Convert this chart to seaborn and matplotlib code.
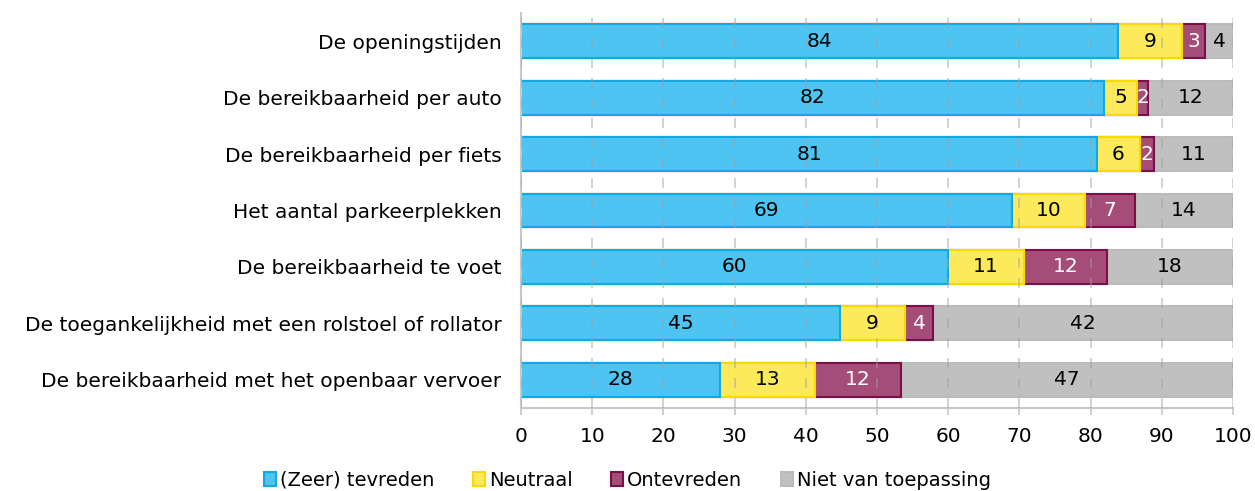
import matplotlib
matplotlib.use("Agg")
import matplotlib.pyplot as plt
from matplotlib.patches import Patch
import seaborn as sns
import pandas as pd
import numpy as np

categories = [
    "De openingstijden",
    "De bereikbaarheid per auto",
    "De bereikbaarheid per fiets",
    "Het aantal parkeerplekken",
    "De bereikbaarheid te voet",
    "De toegankelijkheid met een rolstoel of rollator",
    "De bereikbaarheid met het openbaar vervoer",
]
tevreden = [83.9, 81.9, 80.9, 69.0, 60.0, 44.8, 27.9]
neutraal = [8.9, 4.6, 6.0, 10.2, 10.6, 9.1, 13.4]
ontevreden = [3.3, 1.6, 2.0, 7.0, 11.7, 4.0, 12.1]
niet_van_toepassing = [3.9, 11.9, 11.1, 13.8, 17.7, 42.1, 46.6]
labels_tevreden = [84, 82, 81, 69, 60, 45, 28]
labels_neutraal = [9, 5, 6, 10, 11, 9, 13]
labels_ontevreden = [3, 2, 2, 7, 12, 4, 12]
labels_niet = [4, 12, 11, 14, 18, 42, 47]

series_names = ["(Zeer) tevreden", "Neutraal", "Ontevreden", "Niet van toepassing"]
series_values = [tevreden, neutraal, ontevreden, niet_van_toepassing]
series_labels = [labels_tevreden, labels_neutraal, labels_ontevreden, labels_niet]
face_colors = ["#4DC4F1", "#FDEA5A", "#A44D78", "#C0C0C0"]
edge_colors = ["#14A8E2", "#F7DA00", "#7B0F47", "#BBBBBB"]
text_colors = ["#000000", "#000000", "#FFFFFF", "#000000"]

sns.set_theme(style="white")
plt.rcParams["font.family"] = ["DejaVu Sans"]
plt.rcParams["text.color"] = "#000000"
plt.rcParams["xtick.color"] = "#000000"
plt.rcParams["ytick.color"] = "#000000"

fig = plt.figure(figsize=(12.55, 4.91), dpi=100)
ax = fig.add_axes([521 / 1255, 1 - 408 / 491, (1233 - 521) / 1255, (408 - 13) / 491])

vals = np.array(series_values)
cum = np.cumsum(vals, axis=0)
starts = cum - vals

# draw cumulative bars from back to front
for i in range(len(series_names) - 1, -1, -1):
    df = pd.DataFrame({"cat": categories, "val": cum[i]})
    sns.barplot(data=df, x="val", y="cat", orient="h", color=face_colors[i],
                edgecolor=edge_colors[i], linewidth=1.5, width=0.6, saturation=1,
                ax=ax, zorder=2)

for i in range(len(series_names)):
    for j in range(len(categories)):
        ax.text(starts[i, j] + vals[i, j] / 2, j, str(series_labels[i][j]),
                ha="center", va="center", fontsize=14.5, color=text_colors[i], zorder=4)

ax.set_xlim(0, 100)
ax.set_ylim(6.5, -0.5)
ax.set_xticks(np.arange(0, 101, 10))
ax.set_xlabel("")
ax.set_ylabel("")
ax.tick_params(axis="x", labelsize=14.5, length=5, width=1.2, color="#C8C8C8", labelcolor="#000000",
               direction="out", bottom=True, pad=9)
ax.tick_params(axis="y", labelsize=14.5, length=0, pad=14, labelcolor="#000000")
ax.xaxis.grid(True, linestyle=(0, (6, 6)), color="#A0A0A0", linewidth=1.2, alpha=0.55, zorder=3)
ax.set_axisbelow(False)
for s in ["top", "right"]:
    ax.spines[s].set_visible(False)
for s in ["left", "bottom"]:
    ax.spines[s].set_color("#C8C8C8")
    ax.spines[s].set_linewidth(1.5)

handles = [Patch(facecolor=face_colors[i], edgecolor=edge_colors[i], linewidth=1.5, label=series_names[i])
           for i in range(len(series_names))]
fig.legend(handles=handles, loc="center", bbox_to_anchor=(0.5, 1 - 480 / 491), ncol=4, frameon=False,
           fontsize=14, handlelength=0.6, handleheight=0.7, handletextpad=0.2, columnspacing=2.0,
           labelcolor="#000000")

fig.savefig("out.png", dpi=100)
